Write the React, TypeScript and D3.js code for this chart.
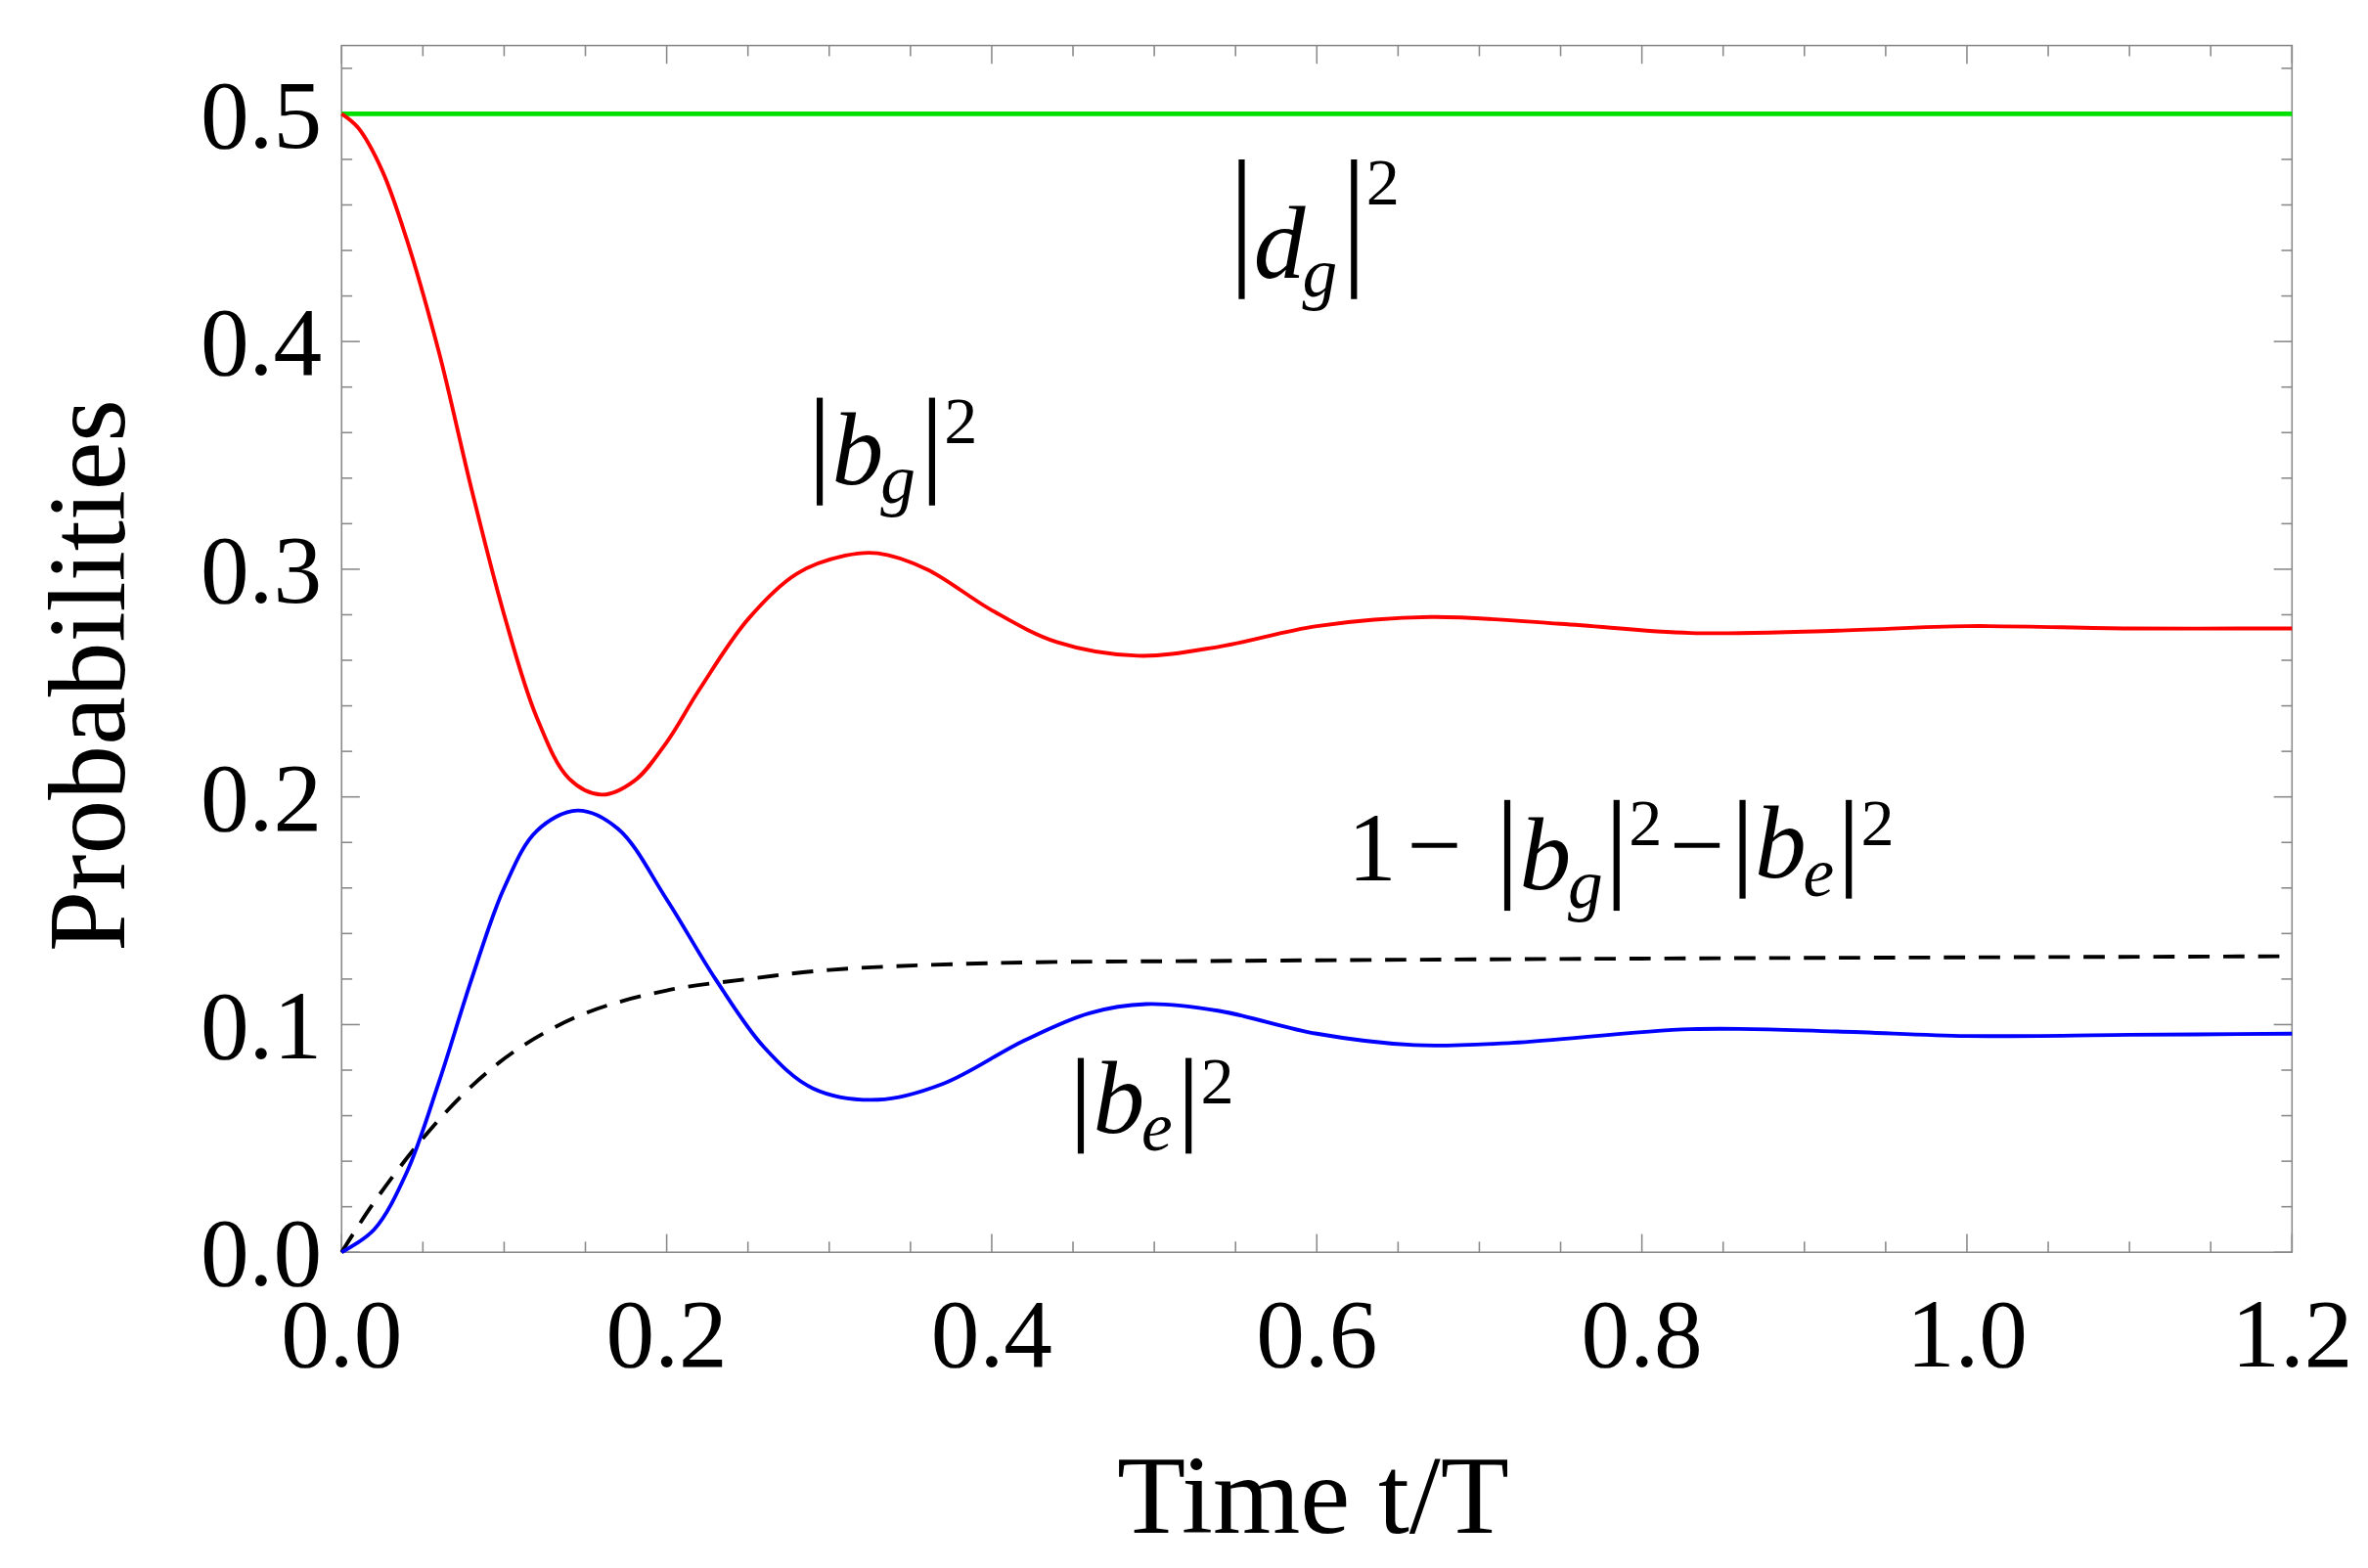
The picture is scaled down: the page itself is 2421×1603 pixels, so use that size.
import * as React from 'react'
import * as d3 from 'd3'

const timeRed = [0, 0.01, 0.025, 0.04, 0.06, 0.08, 0.10, 0.12, 0.14, 0.16, 0.18, 0.20, 0.22, 0.25, 0.28, 0.31, 0.33, 0.36, 0.40, 0.44, 0.49, 0.54, 0.60, 0.67, 0.75, 0.83, 0.92, 1.0, 1.1, 1.2]
const bgSq = [0.5, 0.494, 0.475, 0.445, 0.395, 0.335, 0.28, 0.235, 0.208, 0.201, 0.207, 0.224, 0.247, 0.278, 0.298, 0.306, 0.307, 0.300, 0.282, 0.268, 0.262, 0.266, 0.275, 0.279, 0.276, 0.272, 0.273, 0.275, 0.274, 0.274]
const timeBlue = [0, 0.02, 0.04, 0.06, 0.08, 0.10, 0.12, 0.145, 0.17, 0.20, 0.23, 0.26, 0.29, 0.33, 0.37, 0.42, 0.46, 0.495, 0.54, 0.60, 0.66, 0.72, 0.83, 0.92, 1.0, 1.1, 1.2]
const beSq = [0, 0.01, 0.035, 0.075, 0.12, 0.16, 0.185, 0.194, 0.186, 0.155, 0.12, 0.09, 0.072, 0.067, 0.074, 0.093, 0.105, 0.109, 0.106, 0.096, 0.091, 0.092, 0.098, 0.097, 0.095, 0.0955, 0.096]
const timeLoss = [0, 0.02, 0.05, 0.08, 0.11, 0.15, 0.20, 0.25, 0.30, 0.40, 0.55, 0.8, 1.2]
const lossVals = [0, 0.022, 0.05, 0.073, 0.09, 0.105, 0.115, 0.12, 0.124, 0.127, 0.128, 0.129, 0.13]
const dgSq = 0.5
const xTicks = [0, 0.2, 0.4, 0.6, 0.8, 1.0, 1.2]
const yTicks = [0, 0.1, 0.2, 0.3, 0.4, 0.5]

const L = 225, R = 1510, T = 30, B = 825
const x = d3.scaleLinear().domain([0, 1.2]).range([L, R])
const y = d3.scaleLinear().domain([0, 0.5]).range([B, 75])
const FONT = '"Liberation Serif", "Times New Roman", serif'

const line = d3.line<[number, number]>().x(d => x(d[0])).y(d => y(d[1])).curve(d3.curveCatmullRom)
const zip = (a: number[], b: number[]) => a.map((t, i) => [t, b[i]] as [number, number])

function Abs({ x0, top, bot, base, sub, w }: any) {
  // |base_sub|^2 drawn with two bars
  return (
    <g fontFamily={FONT}>
      <line x1={x0} x2={x0} y1={top} y2={bot} stroke="#000" strokeWidth={4} />
      <text x={x0 + 8} y={bot - 14} fontSize={68} fontStyle="italic">{base}</text>
      <text x={x0 + 40} y={bot - 2} fontSize={46} fontStyle="italic">{sub}</text>
      <line x1={x0 + w} x2={x0 + w} y1={top} y2={bot} stroke="#000" strokeWidth={4} />
      <text x={x0 + w + 8} y={top + 30} fontSize={44}>2</text>
    </g>
  )
}

export default function App() {
  const xMinor = d3.range(0, 1.2001, 0.05)
  const yMinor = d3.range(0, 0.53, 0.02)
  return (
    <svg width={2421} height={1603} viewBox="0 0 1560 1033" style={{ position: 'absolute', left: 0, top: 0, background: '#fff' }}>
      <rect x={L} y={T} width={R - L} height={B - T} fill="none" stroke="#888" strokeWidth={1} />
      {xMinor.map((v, i) => {
        const major = Math.abs(v / 0.2 - Math.round(v / 0.2)) < 1e-6
        const len = major ? 12 : 7
        return (
          <g key={'x' + i} stroke="#888">
            <line x1={x(v)} x2={x(v)} y1={B} y2={B - len} />
            <line x1={x(v)} x2={x(v)} y1={T} y2={T + len} />
          </g>
        )
      })}
      {yMinor.map((v, i) => {
        const major = Math.abs(v / 0.1 - Math.round(v / 0.1)) < 1e-6
        const len = major ? 12 : 7
        return (
          <g key={'y' + i} stroke="#888">
            <line x1={L} x2={L + len} y1={y(v)} y2={y(v)} />
            <line x1={R} x2={R - len} y1={y(v)} y2={y(v)} />
          </g>
        )
      })}
      {xTicks.map(v => (
        <text key={'xl' + v} x={x(v)} y={900} textAnchor="middle" fontFamily={FONT} fontSize={64}>{v.toFixed(1)}</text>
      ))}
      {yTicks.map(v => (
        <text key={'yl' + v} x={212} y={y(v) + 22} textAnchor="end" fontFamily={FONT} fontSize={64}>{v.toFixed(1)}</text>
      ))}
      <text x={865} y={1010} textAnchor="middle" fontFamily={FONT} fontSize={74}>Time t/T</text>
      <text transform="translate(82,445) rotate(-90)" textAnchor="middle" fontFamily={FONT} fontSize={72}>Probabilities</text>

      <line x1={x(0)} x2={x(1.2)} y1={y(dgSq)} y2={y(dgSq)} stroke="#00e000" strokeWidth={3} />
      <path d={line(zip(timeLoss, lossVals)) || ''} fill="none" stroke="#000" strokeWidth={2.5} strokeDasharray="14,9" />
      <path d={line(zip(timeBlue, beSq)) || ''} fill="none" stroke="#0000ff" strokeWidth={2.5} />
      <path d={line(zip(timeRed, bgSq)) || ''} fill="none" stroke="#ff0000" strokeWidth={2.5} />

      <Abs x0={818} top={105} bot={197} base="d" sub="g" w={74} />
      <Abs x0={540} top={262} bot={333} base="b" sub="g" w={74} />
      <Abs x0={712} top={697} bot={760} base="b" sub="e" w={71} />
      <text x={888} y={580} fontFamily={FONT} fontSize={64}>1</text>
      <text x={945} y={578} fontFamily={FONT} fontSize={64} textAnchor="middle">−</text>
      <Abs x0={993} top={527} bot={600} base="b" sub="g" w={72} />
      <text x={1118} y={578} fontFamily={FONT} fontSize={64} textAnchor="middle">−</text>
      <Abs x0={1148} top={527} bot={592} base="b" sub="e" w={70} />
    </svg>
  )
}
